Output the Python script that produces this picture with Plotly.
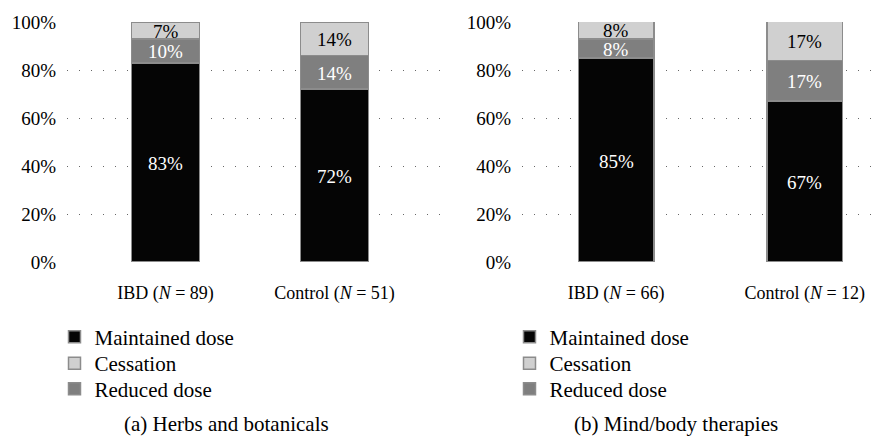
import plotly.graph_objects as go

# ---- data ----
groups_a = ["IBD (<i>N</i> = 89)", "Control (<i>N</i> = 51)"]
groups_b = ["IBD (<i>N</i> = 66)", "Control (<i>N</i> = 12)"]
series_names = ["Maintained dose", "Reduced dose", "Cessation"]
maintained_a = [83, 72]
reduced_a = [10, 14]
cessation_a = [7, 14]
maintained_b = [85, 67]
reduced_b = [8, 17]
cessation_b = [8, 17]
y_ticks = [0, 20, 40, 60, 80, 100]
y_tick_labels = ["0%", "20%", "40%", "60%", "80%", "100%"]
subtitles = ["(a) Herbs and botanicals", "(b) Mind/body therapies"]

FONT = "'Liberation Serif', 'DejaVu Serif', serif"
FS_TICK = 19
FS_X = 18
FS_LABEL = 19
FS_LEG = 21
fill_colors = {"Maintained dose": "#050505", "Reduced dose": "#7f7f7f", "Cessation": "#d0d0d0"}
text_colors = {"Maintained dose": "white", "Reduced dose": "white", "Cessation": "black"}
legend_row = {"Maintained dose": 0, "Cessation": 1, "Reduced dose": 2}

# page body has an 8px default margin, so the figure is drawn 8px in from the window edge
W, H = 876, 430
ytop, ybot = 14, 254
ydom = [(H - ybot) / H, (H - ytop) / H]
legend_x = [46.5, 501.5]
legend_rows_y = [329, 355.5, 381]

fig = go.Figure()
panels = [
    (groups_a, [maintained_a, reduced_a, cessation_a], "x", "y"),
    (groups_b, [maintained_b, reduced_b, cessation_b], "x2", "y2"),
]
annotations = []
legends = {}
for p, (groups, vals, xa, ya) in enumerate(panels):
    base = [0] * len(groups)
    for name, v in zip(series_names, vals):
        r = legend_row[name]
        idx = p * 3 + r + 1
        lname = "legend" if idx == 1 else f"legend{idx}"
        legends[lname] = dict(
            x=legend_x[p] / W, y=(H - legend_rows_y[r]) / H, xanchor="left", yanchor="middle",
            font=dict(family=FONT, size=FS_LEG, color="black"), bgcolor="rgba(0,0,0,0)",
        )
        fig.add_trace(go.Bar(
            x=groups, y=v, name=name, xaxis=xa, yaxis=ya, legend=lname, width=0.4,
            showlegend=True,
            marker=dict(color=fill_colors[name], line=dict(color="#8c8c8c", width=1.5)),
            hoverinfo="skip",
        ))
        for i, g in enumerate(groups):
            annotations.append(dict(
                x=g, y=base[i] + v[i] / 2, xref=xa, yref=ya, text=f"{v[i]}%",
                showarrow=False, font=dict(family=FONT, size=FS_LABEL, color=text_colors[name]),
                yshift=-1,
            ))
            base[i] += v[i]

axis_common = dict(
    type="category", showgrid=False, showline=False, zeroline=False, ticks="",
    automargin=False,
    tickfont=dict(family=FONT, size=FS_X, color="black"), ticklabelstandoff=18,
)
yaxis_common = dict(
    range=[0, 100], tickmode="array", tickvals=y_ticks, ticktext=y_tick_labels,
    showgrid=True, automargin=False,
    gridcolor="#666666", gridwidth=1.4, griddash="1.4px,10.6px", zeroline=False,
    showline=False, ticks="", tickfont=dict(family=FONT, size=FS_TICK, color="black"),
    ticklabelstandoff=10, domain=ydom,
)

fig.update_layout(
    width=W, height=H, margin=dict(l=0, r=0, t=0, b=0, autoexpand=False),
    paper_bgcolor="white", plot_bgcolor="white",
    barmode="stack", bargap=0.6, showlegend=True,
    font=dict(family=FONT, size=FS_TICK, color="black"),
    xaxis=dict(domain=[59 / W, 432 / W], range=[-0.583, 1.624], anchor="y", **axis_common),
    xaxis2=dict(domain=[514 / W, 1.0], range=[-0.499, 1.42], anchor="y2", **axis_common),
    yaxis=dict(anchor="x", **yaxis_common),
    yaxis2=dict(anchor="x2", **yaxis_common),
    annotations=annotations + [
        dict(x=218 / W, y=(H - 416) / H, xref="paper", yref="paper", text=subtitles[0],
             showarrow=False, xanchor="center", yanchor="middle", font=dict(family=FONT, size=FS_LEG)),
        dict(x=668 / W, y=(H - 416) / H, xref="paper", yref="paper", text=subtitles[1],
             showarrow=False, xanchor="center", yanchor="middle", font=dict(family=FONT, size=FS_LEG)),
    ],
    **legends,
)

fig.write_html("out.html")
